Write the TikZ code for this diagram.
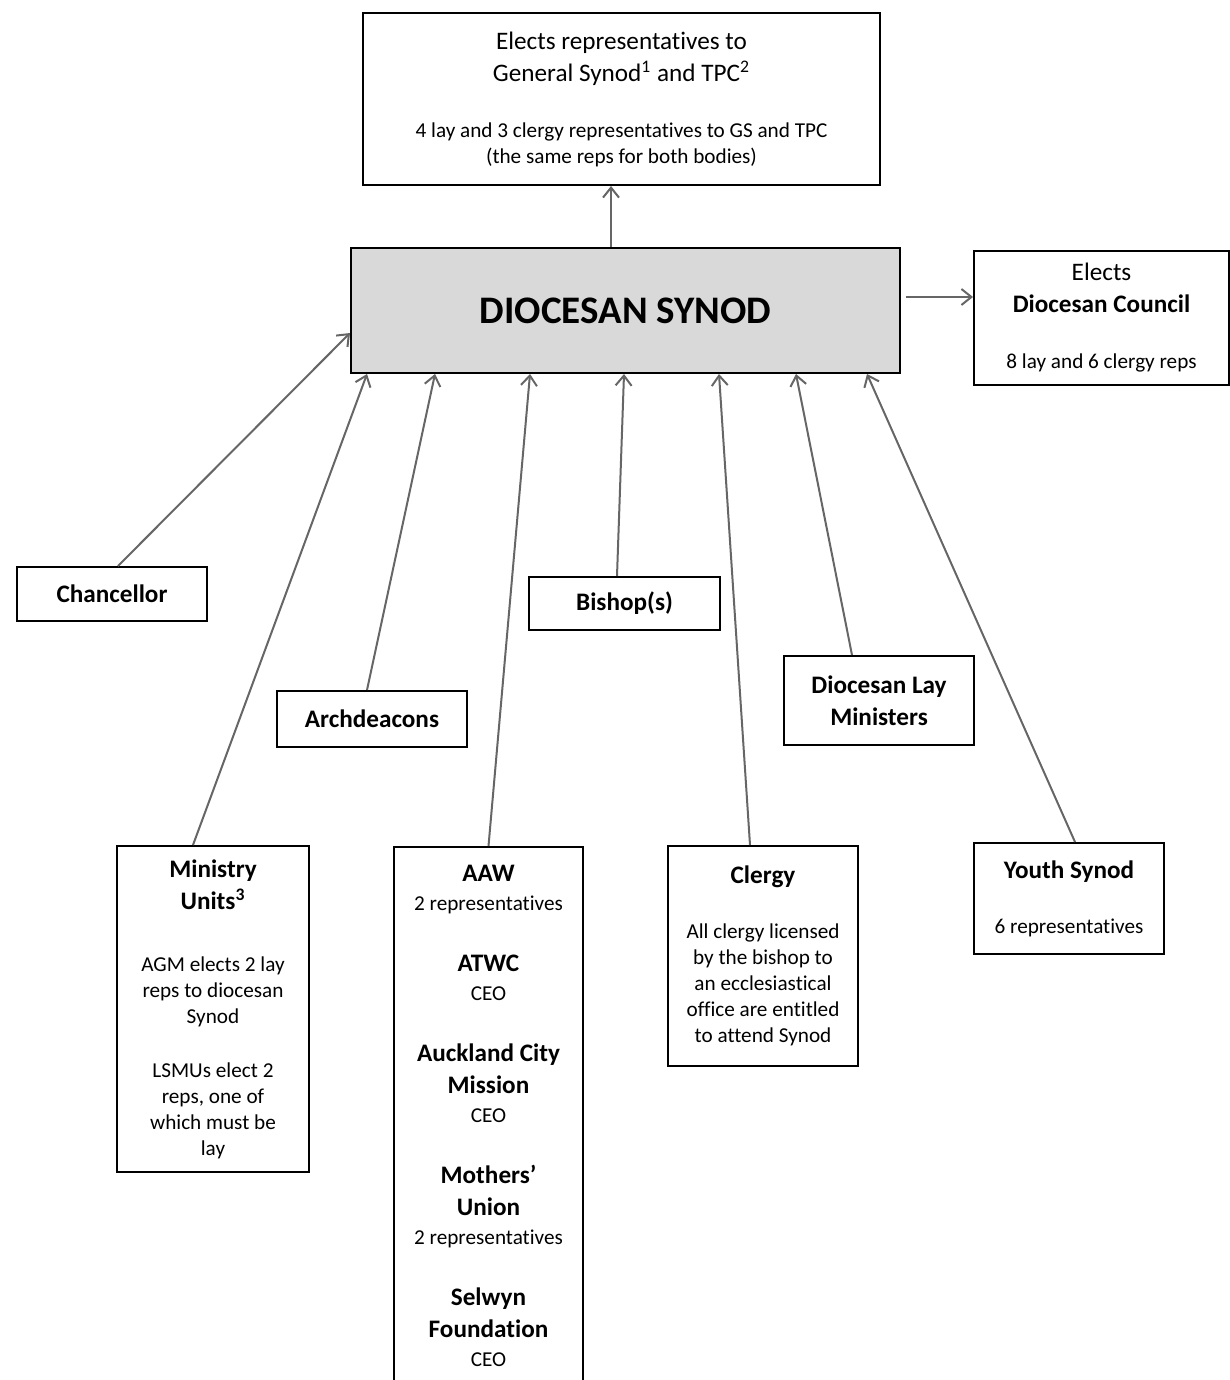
\documentclass[tikz,border=0pt]{standalone}
\usepackage{fontspec}
\setmainfont{Carlito}[Ligatures=NoCommon]
\usepackage{xcolor}
\usepackage{tikz}
\usetikzlibrary{arrows.meta, positioning}
\definecolor{SynodGrey}{gray}{0.85}
\definecolor{LinkGrey}{gray}{0.4}
\setlength{\parindent}{0pt}
\setlength{\parskip}{0pt}
\newcommand{\hd}[1]{{\fontsize{12.6}{16}\selectfont\bfseries #1\par}}
\newcommand{\tx}[1]{{\fontsize{12.6}{16}\selectfont #1\par}}
\newcommand{\sm}[1]{{\fontsize{10.6}{13}\selectfont #1\par}}

\begin{document}
\begin{tikzpicture}[x=0.5pt, y=-0.5pt,
  box/.style={draw, line width=1pt, inner sep=0pt, align=flush center},
  title/.style={font=\fontsize{12.6}{16}\selectfont\bfseries},
  link/.style={draw=LinkGrey, line width=1pt, -{Straight Barb[length=5pt,width=8pt]}}]
  \useasboundingbox (0,0) rectangle (1230,1380);
  \clip (0,0) rectangle (1230,1380);

  \node [box, fill=SynodGrey, minimum width=274.5pt, minimum height=62.5pt,
    font=\fontsize{19.5}{23}\selectfont\bfseries] (synod) at (625.5,310.5) {DIOCESAN SYNOD};

  \node [box, minimum width=258.5pt, minimum height=86pt, text width=254pt] (gs) at (621.5,99)
    {\tx{Elects representatives to\\General Synod\textsuperscript{1} and TPC\textsuperscript{2}}\vspace{15pt}%
     \sm{4 lay and 3 clergy representatives to GS and TPC\\(the same reps for both bodies)}};
  \node [box, minimum width=127.5pt, minimum height=67pt, text width=125pt] (council) at (1101.5,318)
    {\tx{Elects}\hd{Diocesan Council}\vspace{15pt}\sm{8 lay and 6 clergy reps}};

  \node [box, title, minimum width=95pt, minimum height=27pt] (chan) at (112,594) {Chancellor};
  \node [box, title, minimum width=95.5pt, minimum height=26.5pt] (bishop) at (624.5,603.5) {Bishop(s)};
  \node [box, title, minimum width=95pt, minimum height=28pt] (arch) at (372,719) {Archdeacons};
  \node [box, title, minimum width=95pt, minimum height=44.5pt] (dlm) at (879,700.5) {Diocesan Lay\\Ministers};

  \node [box, minimum width=96pt, minimum height=163pt, text width=94pt] (mu) at (213,1009)
    {\hd{Ministry\\Units\textsuperscript{3}}\vspace{18pt}%
     \sm{AGM elects 2 lay\\reps to diocesan\\Synod}\vspace{14pt}%
     \sm{LSMUs elect 2\\reps, one of\\which must be\\lay}};
  \node [box, anchor=north, inner ysep=9pt, minimum width=94.5pt, text width=93pt] (aaw) at (488.5,846)
    {\hd{AAW}\vspace{1.5pt}\sm{2 representatives}\vspace{14.5pt}%
     \hd{ATWC}\vspace{1.5pt}\sm{CEO}\vspace{14.5pt}%
     \hd{Auckland City\\Mission}\vspace{1.5pt}\sm{CEO}\vspace{14.5pt}%
     \hd{Mothers’\\Union}\vspace{1.5pt}\sm{2 representatives}\vspace{14.5pt}%
     \hd{Selwyn\\Foundation}\vspace{1.5pt}\sm{CEO}\vspace{40pt}};
  \node [box, minimum width=95pt, minimum height=110pt, text width=94pt] (clergy) at (763,956)
    {\hd{Clergy}\vspace{14.5pt}%
     \sm{All clergy licensed\\by the bishop to\\an ecclesiastical\\office are entitled\\to attend Synod}};
  \node [box, minimum width=95pt, minimum height=55.5pt, text width=94pt] (youth) at (1069,898.5)
    {\hd{Youth Synod}\vspace{14.5pt}\sm{6 representatives}};

  \coordinate (gsfoot) at ([xshift=-5.25pt]gs.south);
  \draw [link] (gsfoot |- synod.north) -- (gsfoot);
  \draw [link] ([xshift=2.5pt,yshift=6.75pt]synod.east) -- ([yshift=10.5pt]council.west);

  \draw [link] ([xshift=3pt]chan.north) -- ([yshift=-11.25pt]synod.west);
  \draw [link] ([xshift=-10pt]mu.north) -- ([xshift=8.5pt]synod.south west);
  \draw [link] ([xshift=-2.5pt]arch.north) -- ([xshift=42.5pt]synod.south west);
  \draw [link] (aaw.north) -- ([xshift=90pt]synod.south west);
  \draw [link] ([xshift=-3.75pt]bishop.north) -- ([xshift=137pt]synod.south west);
  \draw [link] ([xshift=-6.5pt]clergy.north) -- ([xshift=184.5pt]synod.south west);
  \draw [link] ([xshift=-13.5pt]dlm.north) -- ([xshift=223pt]synod.south west);
  \draw [link] ([xshift=3pt]youth.north) -- ([xshift=258.5pt]synod.south west);
\end{tikzpicture}
\end{document}
